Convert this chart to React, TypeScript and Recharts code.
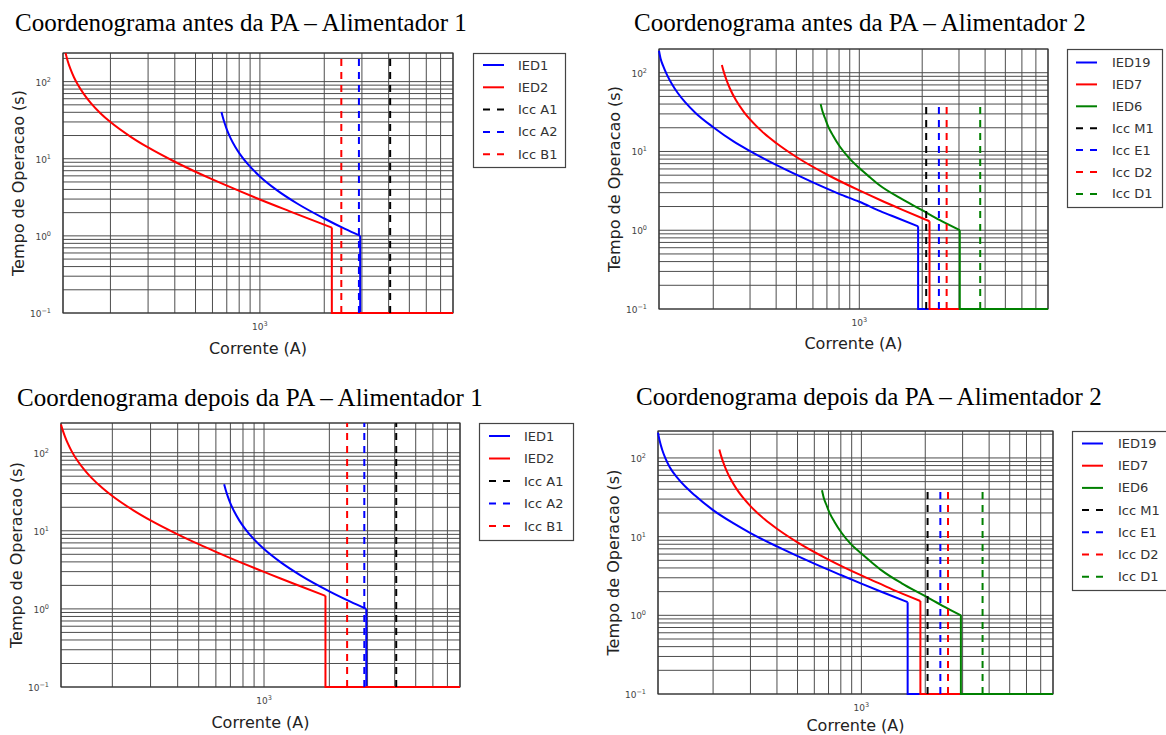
import React from 'react';
import { LineChart, Line, XAxis, YAxis, CartesianGrid, Legend, ReferenceArea } from 'recharts';

type Pair = [number, number];

const T_MIN = 0.1;
const I_MAX = 8000;

const X_TICKS = [200, 300, 400, 500, 600, 700, 800, 900, 1000, 2000, 3000, 4000, 5000, 6000, 7000];
const Y_TICKS = [
  0.1, 0.2, 0.3, 0.4, 0.5, 0.6, 0.7, 0.8, 0.9,
  1, 2, 3, 4, 5, 6, 7, 8, 9,
  10, 20, 30, 40, 50, 60, 70, 80, 90,
  100, 200,
];

// antes da PA - alimentador 1
const A1_ANTES_IED1: Pair[] = [[661, 40.4], [670, 35], [685, 28.6], [700, 24.1], [730, 18.4], [770, 14], [808, 11.4], [870, 8.77], [1000, 5.9], [1200, 3.92], [1500, 2.61], [2000, 1.68], [2500, 1.23], [2944, 1.0]];
const A1_ANTES_IED2: Pair[] = [[123.3, 235], [126, 188], [130, 146], [135, 114], [140, 94], [150, 69.3], [162, 52.6], [180, 38.7], [200, 29.9], [250, 19.1], [300, 14], [400, 9.14], [500, 6.78], [600, 5.39], [800, 3.83], [1000, 2.96], [1380, 2.08], [1700, 1.66], [2170, 1.28]];
const A1_ICC_NAMES = ['Icc A1', 'Icc A2', 'Icc B1'];
const A1_ANTES_ICC = [4066, 2905, 2403];

// antes da PA - alimentador 2
const A2_ANTES_IED19: Pair[] = [[110, 190], [112, 150], [115, 123], [120, 94.5], [127, 71.3], [135, 55.6], [147, 41.9], [165, 30.6], [200, 20.3], [250, 13.4], [300, 10.1], [400, 6.74], [600, 4.05], [800, 2.9], [1000, 2.3], [1260, 1.75], [1500, 1.45], [1912, 1.12]];
const A2_ANTES_IED7: Pair[] = [[220, 125], [225, 101], [232, 79.2], [240, 63.5], [257, 44.6], [280, 31.9], [300, 25.5], [350, 17], [400, 12.8], [500, 8.5], [700, 5.1], [1000, 3.2], [1258, 2.42], [1600, 1.83], [2168, 1.3]];
const A2_ANTES_IED6: Pair[] = [[653, 40], [666, 32.7], [685, 26.6], [710, 20.7], [748, 16], [808, 11.5], [892, 8.3], [1000, 6.15], [1124, 4.7], [1255, 3.7], [1565, 2.57], [1987, 1.81], [2431, 1.34], [3026, 1.0]];
const A2_ICC_NAMES = ['Icc M1', 'Icc E1', 'Icc D2', 'Icc D1'];
const A2_ANTES_ICC = [2090, 2404, 2618, 3790];
const A2_ANTES_ICC_TOP = 40;

// depois da PA - alimentador 1
const A1_DEPOIS_IED1: Pair[] = [[655, 39.4], [665, 33.8], [680, 27.8], [700, 22.5], [730, 17.5], [770, 13.5], [820, 10.5], [900, 7.75], [1000, 5.84], [1200, 3.91], [1473, 2.69], [2000, 1.68], [2500, 1.24], [2960, 1.0]];
const A1_DEPOIS_IED2: Pair[] = [[116, 230], [118, 196], [121, 161], [125, 129.5], [130, 104], [139, 77], [150, 58.5], [160, 48], [180, 35.3], [200, 27.9], [250, 18.3], [300, 13.6], [400, 9.02], [500, 6.74], [600, 5.38], [800, 3.83], [1000, 2.98], [1200, 2.43], [1473, 1.95], [1919, 1.47]];
const A1_DEPOIS_ICC = [4066, 2898, 2415];

// depois da PA - alimentador 2
const A2_DEPOIS_IED19: Pair[] = [[110, 210], [112, 165], [115, 128], [119, 100], [125, 76], [138, 53], [165, 33], [200, 21.7], [250, 14.7], [300, 11.1], [400, 7.5], [600, 4.53], [800, 3.25], [1000, 2.53], [1250, 1.98], [1652, 1.47]];
const A2_DEPOIS_IED7: Pair[] = [[214, 128], [218, 107], [224, 86], [232, 68], [243, 52.7], [257, 41], [275, 31.9], [300, 24.4], [350, 16.6], [400, 12.6], [500, 8.46], [700, 5.11], [1000, 3.21], [1207, 2.56], [1500, 1.97], [1897, 1.52]];
const A2_DEPOIS_IED6: Pair[] = [[652, 38.9], [664, 31.5], [683, 25.6], [708, 20], [746, 15.5], [806, 11.2], [890, 8.1], [1000, 6.1], [1120, 4.7], [1250, 3.7], [1550, 2.55], [1960, 1.8], [2400, 1.33], [2944, 1.0]];
const A2_DEPOIS_ICC = [2051, 2356, 2560, 3725];
const A2_DEPOIS_ICC_TOP = 38;

const BLUE = '#0000ff';
const RED = '#ff0000';
const GREEN = '#008000';
const BLACK = '#000000';

const SANS = '"DejaVu Sans", sans-serif';
const SERIF = '"Liberation Serif", "Times New Roman", serif';

const YW = 63;
const MT = 12;
const XH = 50;
const MR = 125;

interface Ied { name: string; pts: Pair[]; color: string }
interface Icc { name: string; value: number; top: number; color: string }
interface Box { x: number; y: number; w: number; h: number; row0: number; dy: number; lx: number; tx: number }
interface PanelSpec {
  title: string;
  titleX: number;
  titleBase: number;
  plot: { x: number; y: number; w: number; h: number };
  xLabelDy: number;
  xDomain: [number, number];
  yDomain: [number, number];
  ieds: Ied[];
  iccs: Icc[];
  legend: Box;
}

const iccList = (names: string[], values: number[], top: number, colors: string[]): Icc[] =>
  names.map((name, k) => ({ name, value: values[k], top, color: colors[k] }));

const PANELS: PanelSpec[] = [
  {
    title: 'Coordenograma antes da PA – Alimentador 1',
    titleX: 15,
    titleBase: 31,
    plot: { x: 63, y: 53, w: 390, h: 260 },
    xLabelDy: 35,
    xDomain: [120, I_MAX],
    yDomain: [T_MIN, 235],
    ieds: [
      { name: 'IED1', pts: A1_ANTES_IED1, color: BLUE },
      { name: 'IED2', pts: A1_ANTES_IED2, color: RED },
    ],
    iccs: iccList(A1_ICC_NAMES, A1_ANTES_ICC, 235, [BLACK, BLUE, RED]),
    legend: { x: 473, y: 53, w: 93, h: 115, row0: 12, dy: 22.3, lx: 10, tx: 45 },
  },
  {
    title: 'Coordenograma antes da PA – Alimentador 2',
    titleX: 634,
    titleBase: 31,
    plot: { x: 659, y: 49, w: 389, h: 260 },
    xLabelDy: 34,
    xDomain: [110, I_MAX],
    yDomain: [T_MIN, 200],
    ieds: [
      { name: 'IED19', pts: A2_ANTES_IED19, color: BLUE },
      { name: 'IED7', pts: A2_ANTES_IED7, color: RED },
      { name: 'IED6', pts: A2_ANTES_IED6, color: GREEN },
    ],
    iccs: iccList(A2_ICC_NAMES, A2_ANTES_ICC, A2_ANTES_ICC_TOP, [BLACK, BLUE, RED, GREEN]),
    legend: { x: 1067, y: 49, w: 96, h: 159, row0: 13.5, dy: 21.9, lx: 9, tx: 45 },
  },
  {
    title: 'Coordenograma depois da PA – Alimentador 1',
    titleX: 17,
    titleBase: 406,
    plot: { x: 61, y: 423, w: 399, h: 264 },
    xLabelDy: 35,
    xDomain: [116, I_MAX],
    yDomain: [T_MIN, 240],
    ieds: [
      { name: 'IED1', pts: A1_DEPOIS_IED1, color: BLUE },
      { name: 'IED2', pts: A1_DEPOIS_IED2, color: RED },
    ],
    iccs: iccList(A1_ICC_NAMES, A1_DEPOIS_ICC, 240, [BLACK, BLUE, RED]),
    legend: { x: 479, y: 423, w: 95, h: 118, row0: 13, dy: 22.5, lx: 10, tx: 45 },
  },
  {
    title: 'Coordenograma depois da PA – Alimentador 2',
    titleX: 636,
    titleBase: 405,
    plot: { x: 658, y: 431, w: 395, h: 263 },
    xLabelDy: 31,
    xDomain: [110, I_MAX],
    yDomain: [T_MIN, 220],
    ieds: [
      { name: 'IED19', pts: A2_DEPOIS_IED19, color: BLUE },
      { name: 'IED7', pts: A2_DEPOIS_IED7, color: RED },
      { name: 'IED6', pts: A2_DEPOIS_IED6, color: GREEN },
    ],
    iccs: iccList(A2_ICC_NAMES, A2_DEPOIS_ICC, A2_DEPOIS_ICC_TOP, [BLACK, BLUE, RED, GREEN]),
    legend: { x: 1072, y: 431, w: 100, h: 160, row0: 12.5, dy: 22.2, lx: 10, tx: 46 },
  },
];

const toPts = (arr: Pair[]) => arr.map(([i, t]) => ({ i, t }));

// joelho -> desce ate o piso -> segue ate o fim do eixo
const tailOf = (arr: Pair[]) => {
  const [ki, kt] = arr[arr.length - 1];
  return [{ i: ki, t: kt }, { i: ki, t: T_MIN }, { i: I_MAX, t: T_MIN }];
};

const decade = (v: number): number | null => {
  const e = Math.log10(v);
  const r = Math.round(e);
  return Math.abs(e - r) < 1e-6 ? r : null;
};

const expText = (e: number) => (e < 0 ? '\u2212' + Math.abs(e) : String(e));

const XTick = (p: any) => {
  const e = decade(p.payload.value);
  if (e === null) return <g />;
  return (
    <text x={p.x} y={p.y + 17} textAnchor="middle" fontSize={9} fill="#444" fontFamily={SANS}>
      10<tspan dy={-4} fontSize={6.5}>{expText(e)}</tspan>
    </text>
  );
};

const YTick = (p: any) => {
  const e = decade(p.payload.value);
  if (e === null) return <g />;
  return (
    <text x={p.x - 12} y={p.y + 4} textAnchor="end" fontSize={9} fill="#444" fontFamily={SANS}>
      10<tspan dy={-4} fontSize={6.5}>{expText(e)}</tspan>
    </text>
  );
};

const xTitle = (dy: number) => (p: any) => {
  const vb = p.viewBox;
  return (
    <text x={vb.x + vb.width / 2} y={vb.y + dy} textAnchor="middle" dominantBaseline="central" fontSize={16} fill="#222" fontFamily={SANS}>
      Corrente (A)
    </text>
  );
};

const yTitle = (p: any) => {
  const vb = p.viewBox;
  const cx = vb.x + vb.width - 45;
  const cy = vb.y + vb.height / 2;
  return (
    <text x={cx} y={cy} transform={`rotate(-90 ${cx} ${cy})`} textAnchor="middle" dominantBaseline="central" fontSize={16} fill="#222" fontFamily={SANS}>
      Tempo de Operacao (s)
    </text>
  );
};

const LegendBox = ({ box, items }: { box: Box; items: { name: string; color: string; dashed: boolean }[] }) => (
  <svg width={box.w} height={box.h} style={{ display: 'block', overflow: 'visible' }}>
    <rect x={0.5} y={0.5} width={box.w - 1} height={box.h - 1} fill="#fff" stroke="#444" strokeWidth={1.2} />
    {items.map((it, k) => {
      const y = box.row0 + k * box.dy;
      return (
        <g key={it.name}>
          <line x1={box.lx} x2={box.lx + 21} y1={y} y2={y} stroke={it.color} strokeWidth={2} strokeDasharray={it.dashed ? '7 7' : undefined} />
          <text x={box.tx} y={y} dominantBaseline="central" fontSize={13} fill="#333" fontFamily={SANS}>
            {it.name}
          </text>
        </g>
      );
    })}
  </svg>
);

const Panel = ({ spec }: { spec: PanelSpec }) => {
  const { plot, legend } = spec;
  const left = plot.x - YW;
  const top = plot.y - MT;
  const width = plot.w + YW + MR;
  const height = plot.h + MT + XH;
  const items = [
    ...spec.ieds.map((s) => ({ name: s.name, color: s.color, dashed: false })),
    ...spec.iccs.map((s) => ({ name: s.name, color: s.color, dashed: true })),
  ];

  return (
    <>
      <div
        style={{
          position: 'absolute',
          left: spec.titleX,
          top: spec.titleBase - 21,
          fontFamily: SERIF,
          fontSize: 25,
          lineHeight: 1,
          whiteSpace: 'nowrap',
          color: '#000',
        }}
      >
        {spec.title}
      </div>
      <div style={{ position: 'absolute', left, top }}>
        <LineChart width={width} height={height} margin={{ top: MT, right: MR, left: 0, bottom: 0 }}>
          <CartesianGrid stroke="#4d4d4d" strokeWidth={1} />
          <XAxis
            type="number"
            dataKey="i"
            scale="log"
            domain={spec.xDomain}
            ticks={X_TICKS}
            interval={0}
            tick={XTick}
            tickLine={false}
            tickSize={0}
            tickMargin={0}
            axisLine={false}
            height={XH}
            label={xTitle(spec.xLabelDy)}
          />
          <YAxis
            type="number"
            dataKey="t"
            scale="log"
            domain={spec.yDomain}
            ticks={Y_TICKS}
            interval={0}
            tick={YTick}
            tickLine={false}
            tickSize={0}
            tickMargin={0}
            axisLine={false}
            width={YW}
            label={yTitle}
          />
          <ReferenceArea
            x1={spec.xDomain[0]}
            x2={spec.xDomain[1]}
            y1={spec.yDomain[0]}
            y2={spec.yDomain[1]}
            fill="none"
            stroke="#333"
            strokeWidth={1.2}
          />
          {spec.ieds.map((s) => (
            <Line
              key={s.name}
              name={s.name}
              data={toPts(s.pts)}
              dataKey="t"
              type="monotone"
              stroke={s.color}
              strokeWidth={2}
              dot={false}
              activeDot={false}
              isAnimationActive={false}
            />
          ))}
          {spec.ieds.map((s) => (
            <Line
              key={s.name + '-tail'}
              name={s.name + ' '}
              legendType="none"
              data={tailOf(s.pts)}
              dataKey="t"
              type="linear"
              stroke={s.color}
              strokeWidth={2}
              dot={false}
              activeDot={false}
              isAnimationActive={false}
            />
          ))}
          {spec.iccs.map((s) => (
            <Line
              key={s.name}
              name={s.name}
              data={[{ i: s.value, t: T_MIN }, { i: s.value, t: s.top }]}
              dataKey="t"
              type="linear"
              stroke={s.color}
              strokeWidth={2}
              strokeDasharray="7 6"
              dot={false}
              activeDot={false}
              isAnimationActive={false}
            />
          ))}
          <Legend
            layout="vertical"
            align="center"
            verticalAlign="middle"
            wrapperStyle={{
              left: legend.x - left,
              top: legend.y - top,
              width: legend.w,
              height: legend.h,
              margin: 0,
              padding: 0,
            }}
            content={() => <LegendBox box={legend} items={items} />}
          />
        </LineChart>
      </div>
    </>
  );
};

export default function App() {
  return (
    <div
      style={{
        position: 'absolute',
        left: 0,
        top: 0,
        width: 1166,
        height: 735,
        overflow: 'hidden',
        background: '#fff',
      }}
    >
      {PANELS.map((p) => (
        <Panel key={p.title} spec={p} />
      ))}
    </div>
  );
}
